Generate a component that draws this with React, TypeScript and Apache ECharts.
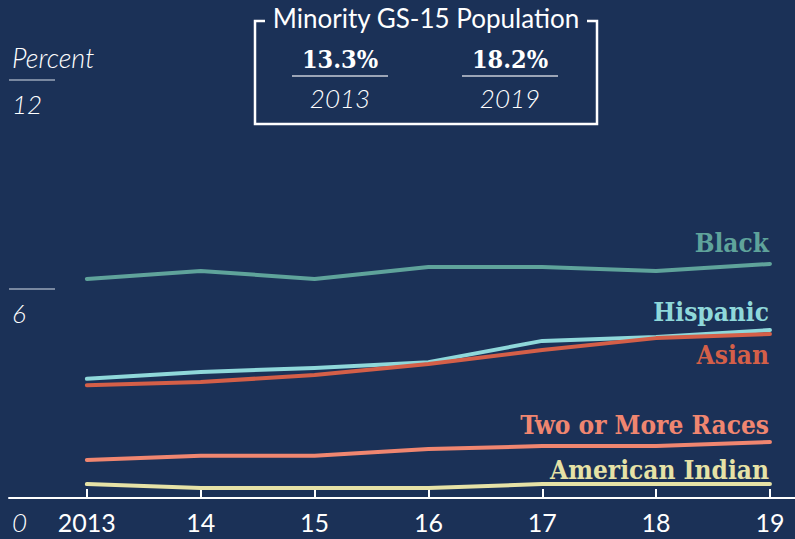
import React, { useEffect, useRef } from "react";
import * as echarts from "echarts";

const years = [2013, 2014, 2015, 2016, 2017, 2018, 2019];
const yearLabels = ["2013", "14", "15", "16", "17", "18", "19"];
const black = [6.29, 6.52, 6.29, 6.63, 6.63, 6.52, 6.72];
const hispanic = [3.42, 3.62, 3.73, 3.9, 4.51, 4.62, 4.82];
const asian = [3.24, 3.33, 3.53, 3.85, 4.25, 4.59, 4.71];
const twoOrMore = [1.09, 1.21, 1.21, 1.41, 1.49, 1.49, 1.61];
const americanIndian = [0.4, 0.29, 0.29, 0.29, 0.4, 0.4, 0.4];
const yTicks = [0, 6, 12];
const summaryValues = ["13.3%", "18.2%"];
const summaryYears = ["2013", "2019"];

const BG = "#1b3157";
const SERIF = "'DejaVu Serif Condensed', 'DejaVu Serif', serif";
const SANS = "Lato, 'Open Sans', sans-serif";

export default function App() {
  const ref = useRef<HTMLDivElement>(null);
  useEffect(() => {
    if (!ref.current) return;
    const chart = echarts.init(ref.current, undefined, { renderer: "svg" });
    const mk = (
      name: string,
      values: number[],
      color: string,
      below: boolean,
      dy: number
    ) => ({
      type: "line",
      name,
      data: values.map((v, i) => [years[i], v]),
      showSymbol: false,
      symbol: "none",
      lineStyle: { color, width: 4, cap: "round", join: "round" },
      itemStyle: { color },
      endLabel: {
        show: true,
        formatter: name,
        color,
        fontFamily: SERIF,
        fontWeight: "bold",
        fontSize: 26,
        align: "right",
        verticalAlign: below ? "top" : "bottom",
        offset: [-9, dy],
      },
    });
    const option: any = {
      animation: false,
      backgroundColor: BG,
      grid: { left: 9, right: 0, top: 80, bottom: 41, containLabel: false },
      xAxis: {
        type: "value",
        min: 2012.316,
        max: 2019.22,
        axisLine: { show: true, lineStyle: { color: "#ffffff", width: 2 } },
        axisTick: {
          show: true,
          inside: true,
          length: 9,
          customValues: years,
          lineStyle: { color: "#ffffff", width: 2 },
        },
        axisLabel: {
          show: true,
          customValues: years,
          formatter: (v: number) => yearLabels[years.indexOf(Math.round(v))] ?? "",
          color: "#ffffff",
          fontFamily: SANS,
          fontSize: 25,
          margin: 11,
        },
        splitLine: { show: false },
      },
      yAxis: {
        type: "value",
        min: 0,
        max: 12,
        axisLine: { show: false },
        axisTick: {
          show: true,
          inside: true,
          length: 46,
          customValues: [6, 12],
          lineStyle: { color: "#9aa6b8", width: 1.5 },
        },
        axisLabel: {
          show: true,
          inside: true,
          customValues: yTicks,
          color: "#ffffff",
          fontFamily: SANS,
          fontStyle: "italic",
          fontWeight: 300,
          fontSize: 26,
          align: "left",
          verticalAlign: "top",
          padding: [11, 0, 0, 0],
          margin: 3,
        },
        splitLine: { show: false },
      },
      series: [
        mk("Black", black, "#5fa39b", false, -8),
        mk("Hispanic", hispanic, "#8fd8da", false, -5),
        mk("Asian", asian, "#d45f48", true, 8),
        mk("Two or More Races", twoOrMore, "#f08670", false, -4),
        mk("American Indian", americanIndian, "#e6e2a6", false, -1),
      ],
      graphic: [
        {
          type: "text",
          left: 12,
          top: 44,
          style: {
            text: "Percent",
            fill: "#ffffff",
            font: `italic 300 27px ${SANS}`,
          },
        },
        {
          type: "polyline",
          shape: {
            points: [
              [265, 21],
              [255, 21],
              [255, 124],
              [597, 124],
              [597, 21],
              [587, 21],
            ],
          },
          style: { stroke: "#ffffff", lineWidth: 2.5, fill: "none" },
        },
        {
          type: "text",
          x: 426,
          y: 18,
          style: {
            text: "Minority GS-15 Population",
            fill: "#ffffff",
            font: `400 26px ${SANS}`,
            textAlign: "center",
            textVerticalAlign: "middle",
          },
        },
        ...[340, 510].flatMap((cx, i) => [
          {
            type: "text",
            x: cx,
            y: 59,
            style: {
              text: summaryValues[i],
              fill: "#ffffff",
              font: `bold 25px ${SERIF}`,
              textAlign: "center",
              textVerticalAlign: "middle",
            },
          },
          {
            type: "line",
            shape: { x1: cx - 48, y1: 76, x2: cx + 48, y2: 76 },
            style: { stroke: "#c8cdd6", lineWidth: 1.5 },
          },
          {
            type: "text",
            x: cx,
            y: 98,
            style: {
              text: summaryYears[i],
              fill: "#ffffff",
              font: `italic 300 26px ${SANS}`,
              textAlign: "center",
              textVerticalAlign: "middle",
            },
          },
        ]),
      ],
    };
    chart.setOption(option);
    return () => chart.dispose();
  }, []);
  return (
    <div
      ref={ref}
      style={{ position: "fixed", left: 0, top: 0, width: 795, height: 539 }}
    />
  );
}
